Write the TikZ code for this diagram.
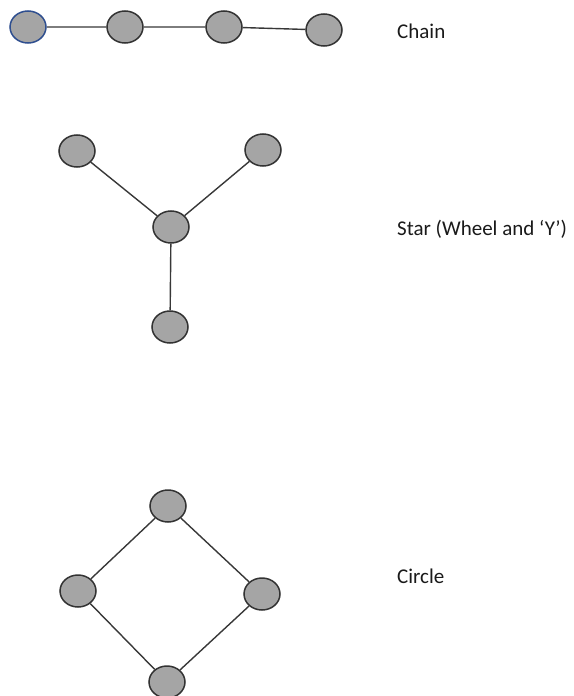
\documentclass[tikz,border=0pt]{standalone}
\usepackage{fontspec}
\setmainfont{Carlito}
\usetikzlibrary{shapes.geometric}
\definecolor{vertexfill}{HTML}{A5A5A5}
\definecolor{vertexline}{HTML}{333333}
\definecolor{firstline}{HTML}{2F4F8F}
\definecolor{edgeline}{HTML}{383838}
\definecolor{labeltext}{HTML}{1A1A1A}
\begin{document}
\begin{tikzpicture}[x=1pt,y=-1pt,
  vertex/.style={ellipse,draw=vertexline,fill=vertexfill,line width=1.5pt,
    minimum width=36pt,minimum height=32pt,inner sep=0pt},
  edge/.style={draw=edgeline,line width=1.4pt},
  caption/.style={anchor=base west,inner sep=0pt,text=labeltext,
    font=\fontsize{21}{25}\selectfont}]
\useasboundingbox (0,0) rectangle (573,696);

% chain
\node[vertex,draw=firstline] (c1) at (28,27) {};
\node[vertex] (c2) at (125,27) {};
\node[vertex] (c3) at (224,27) {};
\node[vertex] (c4) at (324,30) {};
\draw[edge] (c1) -- (c2) (c2) -- (c3) (c3) -- (c4);
\node[caption] (lchain) at (397,38) {Chain};

% star
\node[vertex] (sl) at (77,151) {};
\node[vertex] (sr) at (263,150) {};
\node[vertex] (sc) at (171,227) {};
\node[vertex] (sb) at (170,327) {};
\draw[edge] (sl) -- (sc) (sr) -- (sc) (sc) -- (sb);
\node[caption] (lstar) at (397,235) {Star (Wheel and ‘Y’)};

% circle
\node[vertex] (ot) at (168,506) {};
\node[vertex] (ol) at (78,591) {};
\node[vertex] (or) at (262,594) {};
\node[vertex] (ob) at (167,682) {};
\draw[edge] (ot) -- (ol) (ol) -- (ob) (ob) -- (or) (or) -- (ot);
\node[caption] (lcircle) at (397,583) {Circle};
\end{tikzpicture}
\end{document}
